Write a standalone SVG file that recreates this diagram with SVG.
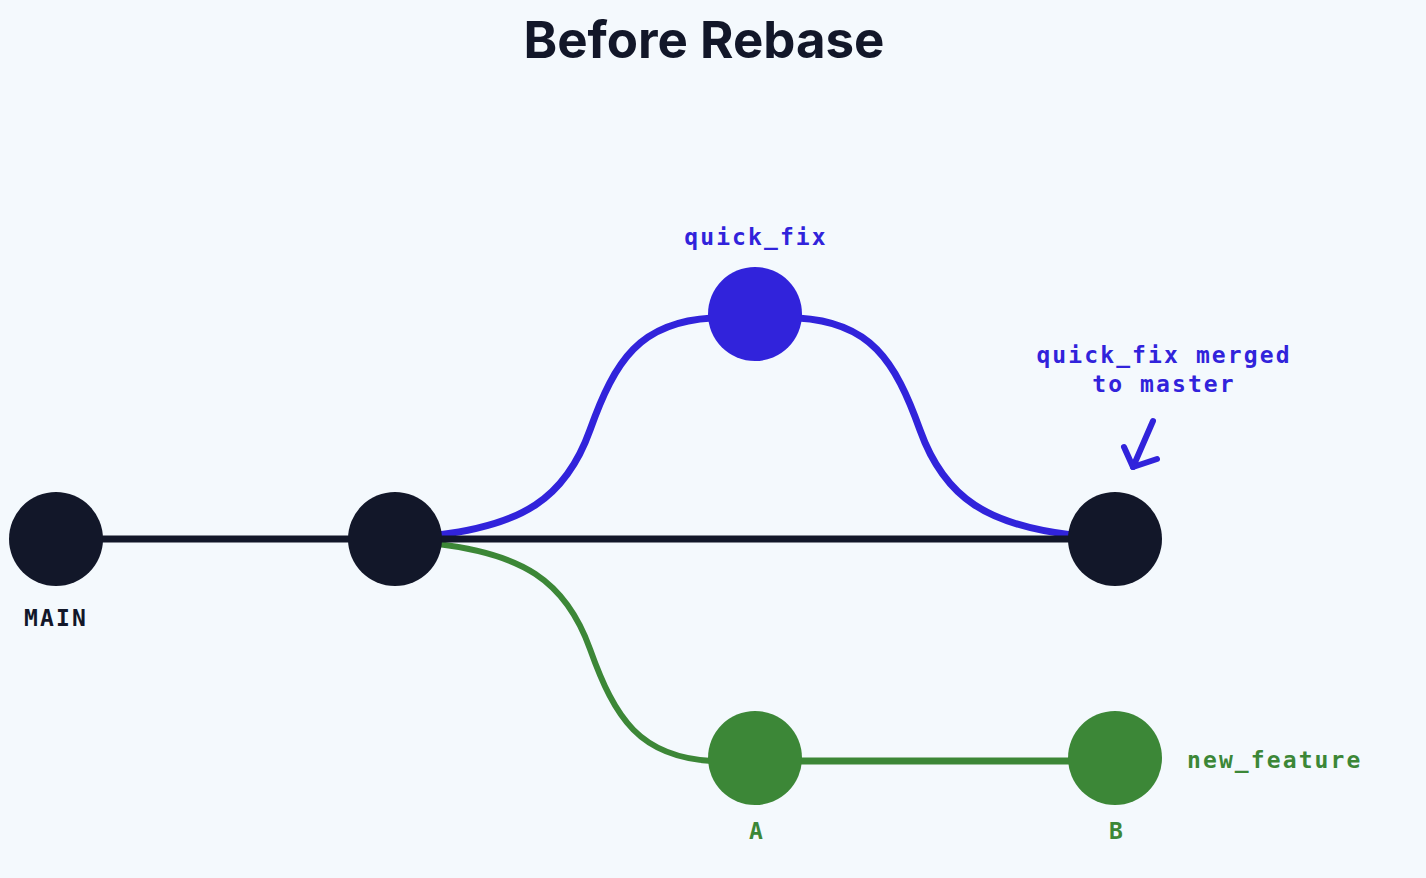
<svg xmlns="http://www.w3.org/2000/svg" width="1426" height="878" viewBox="0 0 1426 878">
<style>
.lbl{font-family:"DejaVu Sans Mono","Liberation Mono",monospace;font-weight:bold;font-size:23px;letter-spacing:2.1px}
.dark{fill:#121729}
.blue{fill:#3123DB}
.green{fill:#3C8737}
.title{font-family:Inter,"Liberation Sans",sans-serif;font-weight:bold;font-size:51px;fill:#121729}
</style>
<rect width="1426" height="878" fill="#F4F9FD"/>
<text class="title" x="704" y="58" text-anchor="middle">Before Rebase</text>
<g id="connectors" fill="none" stroke-linecap="round">
<path d="M438 535 C520 525 565 500 590 430 C615 360 640 322 712 318" stroke="#3123DB" stroke-width="7"/>
<path d="M798 318 C870 322 895 360 920 430 C945 500 990 525 1072 535" stroke="#3123DB" stroke-width="7"/>
<path d="M438 544 C520 554 565 579 590 649 C615 719 640 757 712 761" stroke="#3C8737" stroke-width="6"/>
<line x1="756" y1="761" x2="1115" y2="761" stroke="#3C8737" stroke-width="7"/>
<line x1="56" y1="539" x2="1115" y2="539" stroke="#121729" stroke-width="7"/>
<g id="merge-arrow" stroke="#3123DB" stroke-width="6" stroke-linejoin="round">
<line x1="1153" y1="421" x2="1133" y2="467"/>
<polyline points="1124,447 1133,467 1157,459"/>
</g>
</g>
<g id="node-main">
<circle cx="56" cy="539" r="47" class="dark"/>
<text class="lbl dark" x="56" y="626" text-anchor="middle">MAIN</text>
</g>
<g id="node-base">
<circle cx="395" cy="539" r="47" class="dark"/>
</g>
<g id="node-quickfix">
<circle cx="755" cy="314" r="47" class="blue"/>
<text class="lbl blue" x="756" y="245" text-anchor="middle">quick_fix</text>
</g>
<g id="node-merge">
<circle cx="1115" cy="539" r="47" class="dark"/>
<text class="lbl blue" text-anchor="middle"><tspan x="1164" y="363">quick_fix merged</tspan><tspan x="1164" y="392">to master</tspan></text>
</g>
<g id="node-a">
<circle cx="755" cy="758" r="47" class="green"/>
<text class="lbl green" x="757" y="839" text-anchor="middle">A</text>
</g>
<g id="node-b">
<circle cx="1115" cy="758" r="47" class="green"/>
<text class="lbl green" x="1117" y="839" text-anchor="middle">B</text>
<text class="lbl green" x="1187" y="768">new_feature</text>
</g>
</svg>
